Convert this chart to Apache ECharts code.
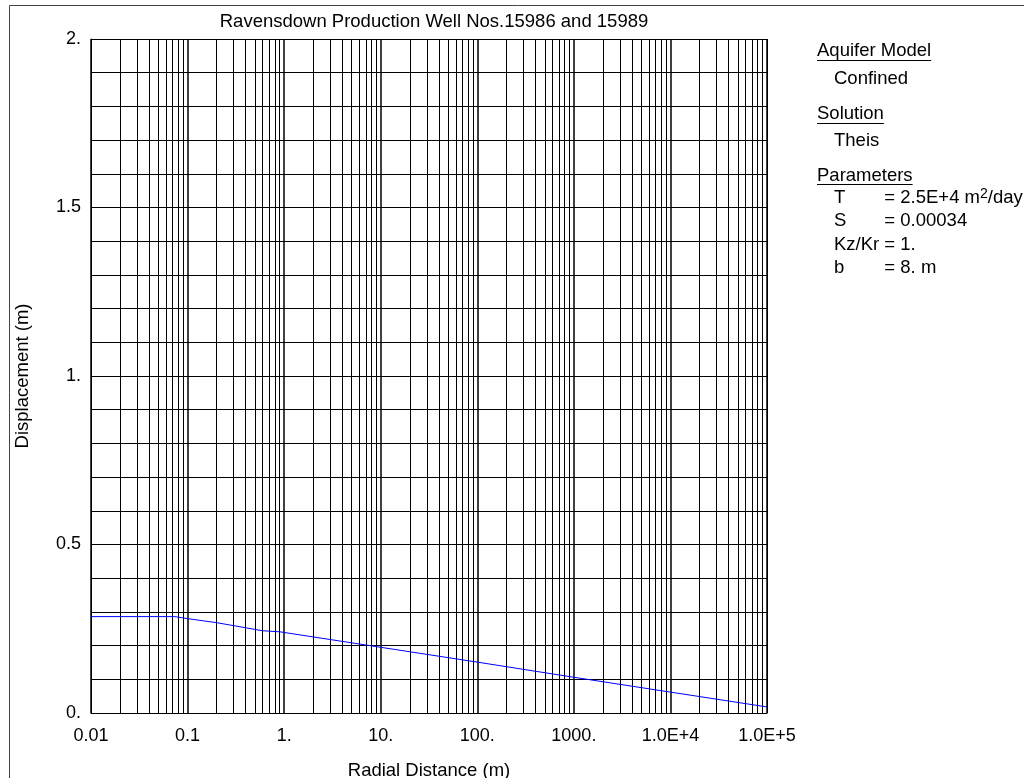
<!DOCTYPE html>
<html>
<head>
<meta charset="utf-8">
<script src="https://cdn.jsdelivr.net/npm/echarts@6/dist/echarts.min.js"></script>
<style>
  html, body { margin: 0; padding: 0; background: #fff; }
  #main { width: 1024px; height: 778px; }
</style>
</head>
<body>
<div id="main"></div>
<script>
// radial distance (m) and displacement (m)
var radialDist = [0.01, 0.074, 0.1, 0.2, 0.6, 0.9, 1, 10, 100, 1000, 10000, 100000];
var displacement = [0.286, 0.286, 0.280, 0.268, 0.244, 0.241, 0.239, 0.195, 0.151, 0.106, 0.062, 0.018];

var xTickLabels = {0.01: '0.01', 0.1: '0.1', 1: '1.', 10: '10.', 100: '100.', 1000: '1000.', 10000: '1.0E+4', 100000: '1.0E+5'};
var yTickLabels = {0: '0.', 0.5: '0.5', 1: '1.', 1.5: '1.5', 2: '2.'};

var paramNames = ['T', 'S', 'Kz/Kr', 'b'];
var paramValues = ['2.5E+4 m', '0.00034', '1.', '8. m'];

var decades = [0.01, 0.1, 1, 10, 100, 1000, 10000];
var mults = [2, 3, 4, 5, 6, 7, 8, 9];

// vertical grid lines at 2..9 x each decade
var gridLines = [];
decades.forEach(function (d) {
  mults.forEach(function (m) {
    gridLines.push({ xAxis: +(d * m).toPrecision(3) });
  });
});

var font = 'Arial, "Liberation Sans", sans-serif';
var fs = 18.5;
var ctx = document.createElement('canvas').getContext('2d');
function textW(s, size) {
  ctx.font = size + 'px ' + font;
  return ctx.measureText(s).width;
}

var myChart = echarts.init(document.getElementById('main'));

function txt(x, y, s, size) {
  return { type: 'text', silent: true, style: { x: x, y: y, text: s, font: (size || fs) + 'px ' + font, fill: '#000', verticalAlign: 'middle', align: 'left' } };
}
function uline(x, y, s) {
  return { type: 'line', silent: true, shape: { x1: x, y1: y, x2: x + textW(s, fs), y2: y }, style: { stroke: '#000', lineWidth: 1 } };
}

// legend block on the right
var lx = 817, ix = 834;
var eqX = ix + textW('Kz/Kr ', fs);
var legend = [
  txt(lx, 50.5, 'Aquifer Model'), uline(lx, 60.5, 'Aquifer Model'),
  txt(ix, 79, 'Confined'),
  txt(lx, 113.5, 'Solution'), uline(lx, 123.5, 'Solution'),
  txt(ix, 141, 'Theis'),
  txt(lx, 176, 'Parameters'), uline(lx, 184.5, 'Parameters')
];
var rowY = [198, 221, 244.5, 268];
paramNames.forEach(function (n, i) {
  legend.push(txt(ix, rowY[i], n));
  legend.push(txt(eqX, rowY[i], '= ' + paramValues[i]));
});
// m^2/day superscript
var supX = eqX + textW('= ' + paramValues[0], fs);
legend.push(txt(supX, rowY[0] - 3.5, '2', 14));
legend.push(txt(supX + textW('2', 14), rowY[0], '/day'));
// outer frame
legend.push({ type: 'rect', silent: true, shape: { x: 9.5, y: 5.5, width: 1100, height: 900 }, style: { fill: null, stroke: '#444', lineWidth: 1 } });

var option = {
  animation: false,
  backgroundColor: '#fff',
  textStyle: { fontFamily: font },
  title: {
    text: 'Ravensdown Production Well Nos.15986 and 15989',
    left: 429, top: 7, textAlign: 'center',
    textStyle: { fontSize: fs, fontWeight: 'normal', color: '#000', fontFamily: font }
  },
  grid: { left: 91, top: 39, right: 257, bottom: 65, outerBoundsMode: 'none', containLabel: false },
  xAxis: {
    type: 'log',
    logBase: 10,
    min: 0.01,
    max: 100000,
    name: 'Radial Distance (m)',
    nameLocation: 'middle',
    nameGap: 48,
    nameTextStyle: { fontSize: fs, color: '#000' },
    axisLine: { show: true, lineStyle: { color: '#000', width: 1 } },
    axisTick: { show: false },
    axisLabel: {
      color: '#000', fontSize: 18, margin: 14,
      formatter: function (v) { return xTickLabels[v] || ''; }
    },
    splitLine: { show: true, lineStyle: { color: '#000', width: 1.5 } }
  },
  yAxis: {
    type: 'value',
    min: 0,
    max: 2,
    interval: 0.5,
    name: 'Displacement (m)',
    nameLocation: 'middle',
    nameGap: 59,
    nameTextStyle: { fontSize: fs, color: '#000' },
    axisLine: { show: true, lineStyle: { color: '#000', width: 1 } },
    axisTick: { show: false },
    axisLabel: {
      color: '#000', fontSize: 18, margin: 10,
      formatter: function (v) { return yTickLabels[v] !== undefined ? yTickLabels[v] : ''; }
    },
    splitLine: { show: true, lineStyle: { color: '#000', width: 1 } },
    minorTick: { show: false, splitNumber: 5 },
    minorSplitLine: { show: true, lineStyle: { color: '#000', width: 1 } }
  },
  graphic: legend,
  series: [{
    type: 'line',
    data: radialDist.map(function (r, i) { return [r, displacement[i]]; }),
    showSymbol: false,
    lineStyle: { color: '#0000ff', width: 1 },
    z: 5,
    markLine: {
      silent: true,
      symbol: ['none', 'none'],
      label: { show: false },
      lineStyle: { color: '#000', width: 1, type: 'solid' },
      data: gridLines,
      z: 1
    }
  }, {
    // right / top frame of plot
    type: 'line',
    data: [],
    markLine: {
      silent: true,
      symbol: ['none', 'none'],
      label: { show: false },
      lineStyle: { color: '#000', width: 1, type: 'solid' },
      data: [{ xAxis: 100000 }, { yAxis: 2 }]
    }
  }]
};

myChart.setOption(option);
</script>
</body>
</html>
